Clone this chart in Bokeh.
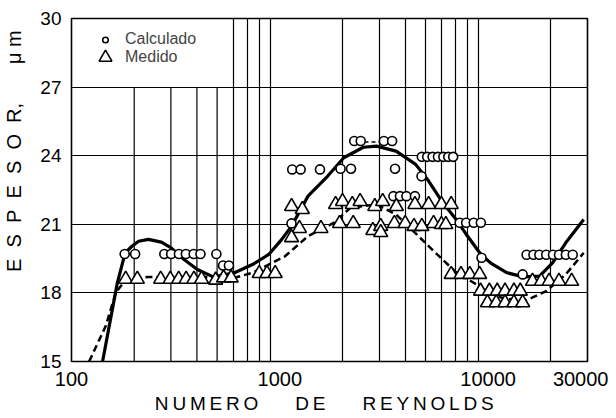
from bokeh.plotting import figure
from bokeh.models import FixedTicker, NumeralTickFormatter, Legend, LegendItem, Range1d
from bokeh.embed import file_html
from bokeh.resources import INLINE

# ---- data ----
calc_x = [180, 202, 279, 301, 328, 354, 386, 416, 496, 534, 570,
          1138, 1147, 1259, 1559, 1957, 2197, 3575, 4790,
          2277, 2446, 3160, 3461,
          4805, 5101, 5413, 5745, 6097, 6437, 6796,
          3511, 3775, 4053, 4454,
          7305, 7846, 8530, 9229, 9300, 14650,
          15300, 16510, 17620, 19010, 20500, 21890, 23620, 25480]
calc_y = [19.7, 19.7, 19.7, 19.7, 19.7, 19.7, 19.7, 19.7, 19.7, 19.2, 19.2,
          21.04, 23.4, 23.4, 23.4, 23.43, 23.43, 23.43, 23.1,
          24.64, 24.64, 24.64, 24.64,
          23.95, 23.95, 23.95, 23.95, 23.95, 23.95, 23.95,
          22.23, 22.23, 22.23, 22.23,
          21.07, 21.07, 21.07, 21.07, 19.54, 18.81,
          19.67, 19.67, 19.67, 19.67, 19.67, 19.67, 19.67, 19.67]

med_x = [182, 207, 268, 298, 327, 355, 387, 421, 492, 537, 584, 797, 868, 950,
         1139, 1283, 1853, 2000, 2228, 2429, 2858, 3117, 3627, 4454, 5183, 5967, 6648,
         1242, 1139, 1576, 1936, 2252, 2797, 3051, 3051, 3548, 3999, 4406, 4806, 5472, 5967, 6266,
         6648, 7410, 8166, 9105,
         9200, 10140, 11060, 12060, 13300, 14270,
         9924, 10940, 12060, 13300, 14650,
         16330, 18000, 19630, 21880, 25180]
med_y = [18.6, 18.6, 18.6, 18.6, 18.6, 18.6, 18.6, 18.6, 18.56, 18.66, 18.66, 18.85, 18.85, 18.85,
         21.78, 21.65, 21.87, 22.0, 21.87, 22.0, 21.78, 22.0, 21.78, 21.87, 21.87, 21.87, 21.87,
         20.82, 20.42, 20.82, 21.04, 21.04, 20.73, 20.91, 20.64, 21.04, 21.04, 20.91, 20.91, 21.04, 20.99, 20.99,
         18.81, 18.81, 18.81, 18.81,
         18.08, 18.08, 18.08, 18.08, 18.08, 18.08,
         17.57, 17.57, 17.57, 17.57, 17.57,
         18.51, 18.51, 18.51, 18.51, 18.51]

calc_fit_x = [141, 166, 181, 195, 210, 234, 270, 301, 347, 402, 479, 606, 739, 885,
              1022, 1139, 1365, 1694, 2028, 2518, 2913, 3615, 4489, 5183, 6000, 6900,
              7800, 9200, 10300, 12330, 14760, 17670, 20430, 23590, 28760]
calc_fit_y = [15.0, 18.44, 19.75, 20.04, 20.26, 20.34, 20.22, 19.97, 19.46, 19.02, 18.7, 18.88, 19.24, 19.68,
              20.34, 20.92, 22.23, 23.1, 23.91, 24.37, 24.42, 24.2, 23.62, 22.89, 22.0, 21.3,
              20.6, 19.7, 19.3, 18.88, 18.7, 18.73, 19.32, 20.19, 21.21]

med_fit_x = [121.5, 146, 163, 181, 234, 430, 606, 739, 1059, 1365, 1576, 1820, 2181, 2913,
             3615, 4489, 5593, 7017, 9070, 10000, 12000, 15300, 19010, 23590, 28760]
med_fit_y = [15.0, 16.55, 18.0, 18.55, 18.7, 18.7, 18.66, 18.88, 19.6, 20.48, 20.77, 21.07, 21.72, 21.87,
             21.43, 20.6, 19.75, 18.9, 18.3, 18.0, 17.75, 17.68, 18.08, 18.81, 19.75]

top_dash_x = [2550, 3050]
top_dash_y = [24.6, 24.6]

x_ticks = [100, 1000, 10000, 30000]
y_ticks = [15, 18, 21, 24, 27, 30]
y_grid = [18, 21, 24, 27]
x_grid_full = [600, 700, 800, 900, 2000, 3000, 4000, 5000, 6000, 7000, 8000, 9000, 20000]
x_grid_short = [200, 300, 400, 500]
x_min, x_max = 100, 30000
y_min, y_max, y_short = 15, 30, 27

NB = "\u00a0"
TS = "\u2009"

p = figure(width=608, height=416, x_axis_type="log",
           x_range=Range1d(x_min, x_max), y_range=Range1d(y_min, y_max),
           output_backend="svg", toolbar_location=None,
           min_border_left=59, min_border_right=21, min_border_top=18, min_border_bottom=55)
p.background_fill_color = "white"
p.border_fill_color = "white"
p.outline_line_color = "black"
p.outline_line_width = 1.6

# grid
p.xgrid.ticker = FixedTicker(ticks=x_grid_full)
p.ygrid.ticker = FixedTicker(ticks=y_grid)
for g in (p.xgrid, p.ygrid):
    g.grid_line_color = "black"
    g.grid_line_width = 1.2
    g.grid_line_alpha = 1.0
p.segment(x0=x_grid_short, x1=x_grid_short, y0=[y_min] * len(x_grid_short),
          y1=[y_short] * len(x_grid_short), line_color="black", line_width=1.2)

# axes
p.xaxis.ticker = FixedTicker(ticks=x_ticks, minor_ticks=[])
p.yaxis.ticker = FixedTicker(ticks=y_ticks, minor_ticks=[])
p.xaxis.formatter = NumeralTickFormatter(format="0")
for ax in (p.xaxis[0], p.yaxis[0]):
    ax.axis_line_color = None
    ax.major_tick_line_color = None
    ax.minor_tick_line_color = None
    ax.major_label_text_font = "Liberation Sans"
    ax.major_label_text_font_size = "20px"
    ax.major_label_text_color = "black"
    ax.axis_label_text_font = "Liberation Sans"
    ax.axis_label_text_font_style = "normal"
    ax.axis_label_text_color = "black"
p.yaxis.major_label_text_font_size = "19px"
p.xaxis.axis_label_text_font_size = "19px"
p.yaxis.axis_label_text_font_size = "20px"
p.xaxis.major_label_standoff = 4
p.yaxis.major_label_standoff = 4
p.xaxis.axis_label = TS.join("NUMERO") + NB * 7 + TS.join("DE") + NB * 7 + TS.join("REYNOLDS") + NB * 2
p.xaxis.axis_label_standoff = 4
p.yaxis.axis_label = NB * 14 + (NB * 2).join("ESPESOR") + "," + NB * 7 + "\u03bc" + NB + "m"
p.yaxis.axis_label_standoff = 12

# curves
p.line(calc_fit_x, calc_fit_y, line_color="black", line_width=3.2)
p.line(med_fit_x, med_fit_y, line_color="black", line_width=2.5, line_dash="7 4")
p.line(top_dash_x, top_dash_y, line_color="black", line_width=1.5, line_dash="4 3")

# markers
circ = p.scatter(calc_x, calc_y, marker="circle", size=9, fill_color="white",
                 line_color="black", line_width=1.6)
tri = p.scatter(med_x, med_y, marker="triangle", size=14, fill_color="white",
                line_color="black", line_width=1.6)

legend_c = Legend(items=[LegendItem(label="Calculado", renderers=[circ])],
                  location=(27, 313), padding=0, margin=0, spacing=0,
                  glyph_width=14, glyph_height=17, label_height=16, label_standoff=13,
                  label_text_font="Liberation Sans", label_text_font_size="16px",
                  border_line_color=None, background_fill_alpha=0)
legend_t = Legend(items=[LegendItem(label="Medido", renderers=[tri])],
                  location=(18, 288), padding=0, margin=0, spacing=0,
                  glyph_width=32, glyph_height=32, label_height=16, label_standoff=4,
                  label_text_font="Liberation Sans", label_text_font_size="16px",
                  border_line_color=None, background_fill_alpha=0)
p.add_layout(legend_c)
p.add_layout(legend_t)

open("out.html", "w").write(file_html(p, INLINE))
